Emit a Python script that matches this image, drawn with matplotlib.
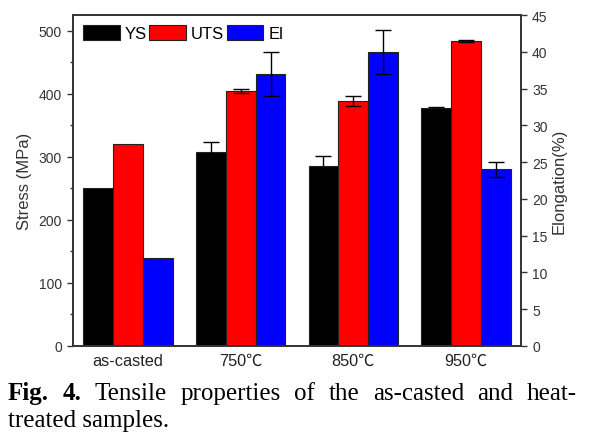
import matplotlib
matplotlib.use("Agg")
import matplotlib.pyplot as plt
import numpy as np

categories = ["as-casted", "750℃", "850℃", "950℃"]
ys = [250, 308, 286, 377]
ys_err = [0, 16, 15, 1.5]
uts = [320, 405, 389, 484]
uts_err = [0, 3, 8, 1.5]
el = [12, 37, 40, 24]
el_err = [0, 3, 3, 1]

plt.rcParams['font.family'] = ['Liberation Sans', 'Noto Sans CJK SC', 'DejaVu Sans']

fig = plt.figure(figsize=(5.91, 4.39), dpi=100)
ax = fig.add_axes([73/591, 1-347/439, 448/591, 331/439])
ax2 = ax.twinx()

x = np.arange(len(categories))
w = 0.265
ekw = dict(ecolor='black', elinewidth=1, capsize=6, capthick=1)

def draw(a, offs, vals, errs, color, label):
    bars = a.bar(x + offs, vals, w, color=color, edgecolor='#222222', linewidth=0.8, label=label)
    idx = [i for i, e in enumerate(errs) if e > 0]
    a.errorbar(x[idx] + offs, [vals[i] for i in idx], yerr=[errs[i] for i in idx],
               fmt='none', **ekw)
    return bars

b1 = draw(ax, -w, ys, ys_err, 'black', 'YS')
b2 = draw(ax, 0, uts, uts_err, '#ff0000', 'UTS')
b3 = draw(ax2, w, el, el_err, '#0000ff', 'El')

ax.set_xlim(-0.49, 3.49)
ax.set_ylim(0, 525)
ax2.set_ylim(0, 45)
ax.set_yticks([0, 100, 200, 300, 400, 500])
ax.set_yticks([50, 150, 250, 350, 450], minor=True)
ax2.set_yticks(np.arange(0, 46, 5))
ax.set_xticks(x)
ax.set_xticklabels(categories, fontsize=11.7, color='#222222')
ax.tick_params(axis='x', length=0, pad=5)
ax.tick_params(axis='y', which='major', length=4.5, width=1, labelsize=10, colors='#333333')
ax.tick_params(axis='y', which='minor', length=2.5, width=1, colors='#333333')
ax2.tick_params(axis='y', which='major', length=4.5, width=1, labelsize=10, colors='#333333')

for a in (ax, ax2):
    for s in a.spines.values():
        s.set_linewidth(1.2)
        s.set_color('#333333')

ax.set_ylabel("Stress (MPa)", fontsize=12, color='#333333', labelpad=5)
ax2.set_ylabel("Elongation(%)", fontsize=12, color='#333333', labelpad=3)

handles = [b1, b2, b3]
leg = ax.legend(handles, ['YS', 'UTS', 'El'], loc='upper left', ncol=3, frameon=False,
                fontsize=12, handlelength=2.2, handleheight=1.0, handletextpad=0.3,
                columnspacing=0.15, borderaxespad=0.2, bbox_to_anchor=(0.0, 1.0))

# caption, justified first line
words1 = [("Fig.", True), ("4.", True), ("Tensile", False), ("properties", False),
          ("of", False), ("the", False), ("as-casted", False), ("and", False),
          ("heat-", False)]
cap_fs = 18
texts = []
for wd, bold in words1:
    t = fig.text(0, 1-400/439, wd, fontsize=cap_fs, family='Liberation Serif',
                 fontweight='bold' if bold else 'normal', ha='left', va='baseline')
    texts.append(t)
fig.canvas.draw()
r = fig.canvas.get_renderer()
widths = [t.get_window_extent(r).width for t in texts]
x0, x1 = 8.0, 577.0
gap = (x1 - x0 - sum(widths)) / (len(texts) - 1)
pos = x0
for t, wpx in zip(texts, widths):
    t.set_x(pos / 591)
    pos += wpx + gap
fig.text(8/591, 1-427/439, "treated samples.", fontsize=cap_fs, family='Liberation Serif',
         ha='left', va='baseline')

fig.savefig("out.png", dpi=100)
